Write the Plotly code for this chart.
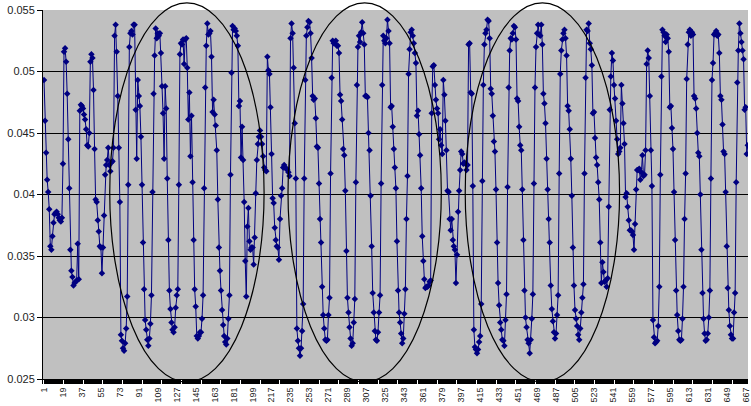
import plotly.graph_objects as go

# ---- data ----
values_part1 = [
    0.0493, 0.0460, 0.0434, 0.0412, 0.0402, 0.0388, 0.0358, 0.0355, 0.0366, 0.0377,
    0.0384, 0.0385, 0.0386, 0.0384, 0.0381, 0.0379, 0.0378, 0.0381, 0.0425, 0.0516,
    0.0519, 0.0508, 0.0482, 0.0445, 0.0405, 0.0355, 0.0338, 0.0333, 0.0326, 0.0328,
    0.0329, 0.0330, 0.0360, 0.0331, 0.0468, 0.0473, 0.0472, 0.0470, 0.0465, 0.0461,
    0.0453, 0.0440, 0.0439, 0.0450, 0.0508, 0.0514, 0.0511, 0.0485, 0.0437, 0.0396,
    0.0394, 0.0379, 0.0370, 0.0358, 0.0357, 0.0336, 0.0357, 0.0383, 0.0416, 0.0424,
    0.0428, 0.0438, 0.0424, 0.0419, 0.0426, 0.0427, 0.0438, 0.0529, 0.0538, 0.0516,
    0.0480, 0.0438, 0.0394, 0.0286, 0.0281, 0.0275, 0.0273, 0.0279, 0.0291, 0.0317,
    0.0408, 0.0520, 0.0531, 0.0533, 0.0530, 0.0538, 0.0538, 0.0469, 0.0429, 0.0493,
    0.0480,
]
values_part2 = [
    0.0472, 0.0447, 0.0408, 0.0361, 0.0323, 0.0298, 0.0290, 0.0282, 0.0277, 0.0283,
    0.0295, 0.0318, 0.0402, 0.0482, 0.0513, 0.0535, 0.0527, 0.0531, 0.0529, 0.0531,
    0.0515, 0.0488, 0.0466, 0.0429, 0.0488, 0.0470, 0.0413, 0.0363, 0.0322, 0.0307,
    0.0296, 0.0290, 0.0288, 0.0292, 0.0308, 0.0318, 0.0323, 0.0408, 0.0514, 0.0523,
    0.0522, 0.0526, 0.0506, 0.0526, 0.0527, 0.0503, 0.0461, 0.0483, 0.0431, 0.0464,
    0.0410, 0.0363, 0.0323, 0.0309, 0.0285, 0.0283, 0.0285, 0.0288, 0.0288, 0.0299,
    0.0318, 0.0405, 0.0487, 0.0521, 0.0539, 0.0530, 0.0531, 0.0533, 0.0512, 0.0467,
    0.0477, 0.0465, 0.0456, 0.0436, 0.0396, 0.0357, 0.0338, 0.0322, 0.0306, 0.0294,
    0.0285, 0.0280, 0.0278, 0.0283, 0.0299, 0.0318, 0.0416, 0.0499, 0.0537, 0.0534,
    0.0535, 0.0533, 0.0529, 0.0521, 0.0472, 0.0476, 0.0430,
]
values_part3 = [
    0.0455, 0.0428, 0.0394, 0.0346, 0.0317, 0.0374, 0.0389, 0.0362, 0.0355, 0.0357,
    0.0357, 0.0343, 0.0365, 0.0401, 0.0428, 0.0441, 0.0447, 0.0452, 0.0447, 0.0441,
    0.0431, 0.0422, 0.0420, 0.0419, 0.0512, 0.0501, 0.0498, 0.0471, 0.0433, 0.0397,
    0.0393, 0.0373, 0.0363, 0.0358, 0.0357, 0.0347, 0.0380, 0.0399, 0.0405, 0.0422,
    0.0424, 0.0422, 0.0421, 0.0420, 0.0418, 0.0415, 0.0527, 0.0539, 0.0531, 0.0503,
    0.0458, 0.0413, 0.0291, 0.0281, 0.0275, 0.0269, 0.0275, 0.0289, 0.0311, 0.0413,
    0.0493, 0.0529, 0.0536, 0.0541, 0.0540, 0.0531, 0.0511, 0.0480, 0.0477, 0.0478,
    0.0462, 0.0439, 0.0438, 0.0409, 0.0380, 0.0361, 0.0325, 0.0302, 0.0291, 0.0282,
    0.0281, 0.0282, 0.0302, 0.0316, 0.0417, 0.0495, 0.0525, 0.0523, 0.0524, 0.0525,
    0.0521, 0.0521, 0.0515, 0.0481,
]
values_part4 = [
    0.0476, 0.0461, 0.0437, 0.0432, 0.0403, 0.0354, 0.0316, 0.0304, 0.0292, 0.0283,
    0.0277, 0.0279, 0.0296, 0.0315, 0.0410, 0.0489, 0.0520, 0.0529, 0.0524, 0.0532,
    0.0540, 0.0531, 0.0522, 0.0480, 0.0480, 0.0479, 0.0450, 0.0436, 0.0399, 0.0358,
    0.0320, 0.0304, 0.0289, 0.0282, 0.0281, 0.0288, 0.0304, 0.0318, 0.0409, 0.0489,
    0.0529, 0.0525, 0.0523, 0.0527, 0.0542, 0.0533, 0.0523, 0.0471, 0.0472, 0.0455,
    0.0437, 0.0422, 0.0405, 0.0362, 0.0322, 0.0304, 0.0296, 0.0287, 0.0279, 0.0283,
    0.0303, 0.0323, 0.0380, 0.0415, 0.0498, 0.0518, 0.0532, 0.0534, 0.0529, 0.0523,
    0.0515, 0.0507, 0.0464, 0.0468, 0.0449, 0.0432, 0.0405, 0.0366, 0.0346, 0.0331,
    0.0324, 0.0325, 0.0325, 0.0326, 0.0329, 0.0330, 0.0466, 0.0504, 0.0505, 0.0489,
    0.0477, 0.0470, 0.0466, 0.0445,
]
values_part5 = [
    0.0453, 0.0440, 0.0433, 0.0493, 0.0481, 0.0460, 0.0436, 0.0403, 0.0402, 0.0380,
    0.0371, 0.0380, 0.0363, 0.0358, 0.0355, 0.0328, 0.0351, 0.0386, 0.0403, 0.0420,
    0.0435, 0.0433, 0.0425, 0.0426, 0.0425, 0.0420, 0.0424, 0.0522, 0.0523, 0.0483,
    0.0482, 0.0407, 0.0290, 0.0276, 0.0274, 0.0271, 0.0274, 0.0280, 0.0285, 0.0311,
    0.0411, 0.0489, 0.0522, 0.0531, 0.0534, 0.0542, 0.0541, 0.0527, 0.0486, 0.0482,
    0.0464, 0.0443, 0.0435, 0.0404, 0.0361, 0.0328, 0.0310, 0.0296, 0.0290, 0.0282,
    0.0281, 0.0277, 0.0298, 0.0319, 0.0406, 0.0487, 0.0517, 0.0527, 0.0526, 0.0531,
    0.0537, 0.0536, 0.0526, 0.0478, 0.0476, 0.0455, 0.0440, 0.0436, 0.0404, 0.0363,
    0.0322, 0.0300, 0.0292, 0.0282, 0.0279, 0.0271, 0.0282, 0.0299, 0.0319, 0.0409,
    0.0487, 0.0520, 0.0531, 0.0538,
]
values_part6 = [
    0.0530, 0.0529, 0.0538, 0.0522, 0.0482, 0.0474, 0.0458, 0.0429, 0.0404, 0.0380,
    0.0361, 0.0326, 0.0307, 0.0297, 0.0288, 0.0283, 0.0287, 0.0302, 0.0318, 0.0417,
    0.0498, 0.0517, 0.0526, 0.0531, 0.0534, 0.0527, 0.0513, 0.0472, 0.0468, 0.0453,
    0.0429, 0.0399, 0.0357, 0.0326, 0.0306, 0.0299, 0.0293, 0.0286, 0.0282, 0.0291,
    0.0304, 0.0316, 0.0327, 0.0417, 0.0495, 0.0534, 0.0533, 0.0539, 0.0523, 0.0518,
    0.0505, 0.0466, 0.0467, 0.0446, 0.0430, 0.0424, 0.0410, 0.0396, 0.0361, 0.0328,
    0.0345, 0.0337, 0.0329, 0.0330, 0.0325, 0.0332, 0.0390, 0.0469, 0.0496, 0.0515,
    0.0509, 0.0489, 0.0478, 0.0460, 0.0445, 0.0433, 0.0435, 0.0438, 0.0489, 0.0474,
    0.0458, 0.0441, 0.0398, 0.0401, 0.0390, 0.0379, 0.0371, 0.0371, 0.0370, 0.0367,
    0.0355, 0.0376, 0.0404, 0.0420,
]
values_part7 = [
    0.0420, 0.0421, 0.0412, 0.0418, 0.0432, 0.0415, 0.0416, 0.0436, 0.0506, 0.0517,
    0.0511, 0.0480, 0.0436, 0.0407, 0.0298, 0.0284, 0.0279, 0.0280, 0.0281, 0.0293,
    0.0325, 0.0416, 0.0496, 0.0534, 0.0532, 0.0529, 0.0524, 0.0530, 0.0527, 0.0516,
    0.0471, 0.0472, 0.0454, 0.0437, 0.0402, 0.0363, 0.0322, 0.0302, 0.0289, 0.0282,
    0.0281, 0.0282, 0.0299, 0.0325, 0.0380, 0.0417, 0.0494, 0.0522, 0.0532, 0.0534,
    0.0529, 0.0532, 0.0530, 0.0480, 0.0478, 0.0470, 0.0450, 0.0434, 0.0431, 0.0400,
    0.0355, 0.0320, 0.0299, 0.0287, 0.0281, 0.0282, 0.0287, 0.0300, 0.0322, 0.0413,
    0.0493, 0.0507, 0.0530, 0.0531, 0.0533, 0.0529, 0.0530, 0.0515, 0.0480, 0.0477,
    0.0457, 0.0435, 0.0433, 0.0402, 0.0358, 0.0324, 0.0306, 0.0293, 0.0286, 0.0283,
    0.0283, 0.0304, 0.0320, 0.0410, 0.0491, 0.0517, 0.0539, 0.0531, 0.0524, 0.0517,
    0.0510, 0.0469, 0.0471, 0.0433, 0.0440,
]

values = (values_part1 + values_part2 + values_part3 + values_part4
          + values_part5 + values_part6 + values_part7)
categories = list(range(1, len(values) + 1))

tick_positions = [1, 19, 37, 55, 73, 91, 109, 127, 145, 163, 181, 199, 217, 235,
                  253, 271, 289, 307, 325, 343, 361, 379, 397, 415, 433, 451, 469,
                  487, 505, 523, 541, 559, 577, 595, 613, 631, 649, 667]
tick_labels = [str(t) for t in tick_positions]

y_ticks = [0.025, 0.03, 0.035, 0.04, 0.045, 0.05, 0.055]
y_tick_labels = ["0.025", "0.03", "0.035", "0.04", "0.045", "0.05", "0.055"]

# highlighted regions (category index ranges of the three ovals)
ovals = [(63.4, 209.9), (232.6, 378.1), (400.8, 547.3)]

# ---- figure ----
fig = go.Figure()
fig.add_trace(go.Scatter(
    x=categories, y=values, mode="lines+markers",
    line=dict(color="#000080", width=1),
    marker=dict(symbol="diamond", size=5, color="#000080"),
    showlegend=False, hoverinfo="skip",
))

for x0, x1 in ovals:
    fig.add_shape(type="circle", xref="x", yref="paper",
                  x0=x0, x1=x1, y0=-0.008, y1=1.0195,
                  line=dict(color="black", width=1.2), layer="above")

fig.update_layout(
    width=751, height=406,
    margin=dict(l=43, r=0, t=10, b=27),
    paper_bgcolor="white",
    plot_bgcolor="#C0C0C0",
    font=dict(family="Liberation Sans, Arial, sans-serif", color="#222"),
    showlegend=False,
)
fig.update_xaxes(
    range=[0.055, 669.2],
    tickmode="array", tickvals=tick_positions, ticktext=tick_labels,
    tickangle=-90, tickfont=dict(size=9, color="#222"),
    ticklabeloverflow="allow",
    ticks="outside", ticklen=4, tickcolor="black", tickwidth=1,
    minor=dict(tickmode="linear", tick0=1, dtick=1, ticks="outside",
               ticklen=4, tickcolor="black", tickwidth=1, showgrid=False),
    showgrid=False, zeroline=False,
    showline=True, linecolor="black", linewidth=1,
)
fig.update_yaxes(
    range=[0.025, 0.055],
    tickmode="array", tickvals=y_ticks, ticktext=y_tick_labels,
    tickfont=dict(size=11, color="#222"),
    ticks="outside", ticklen=5, tickcolor="black", tickwidth=1,
    showgrid=True, gridcolor="black", gridwidth=1,
    zeroline=False, showline=True, linecolor="black", linewidth=1,
)

fig.write_html("out.html")
